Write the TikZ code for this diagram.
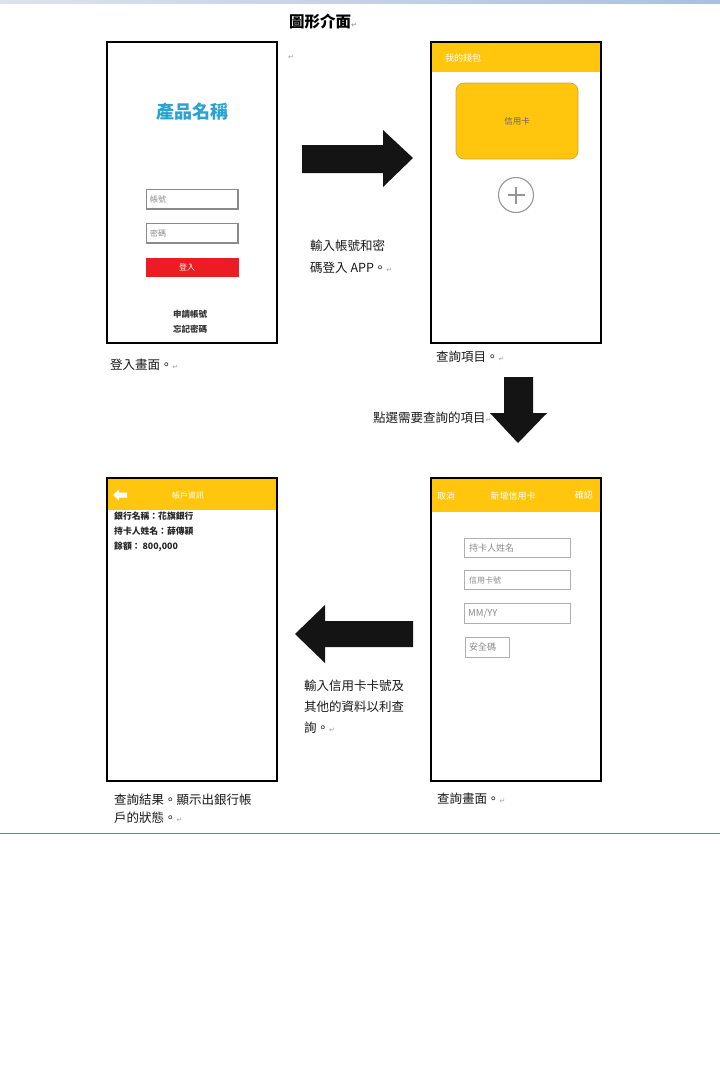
\documentclass[tikz,border=0pt]{standalone}
\usepackage{fontspec}
\setmainfont{Noto Sans CJK TC}
\newfontfamily\symfont{DejaVu Sans}
\usetikzlibrary{calc}
\definecolor{appyellow}{HTML}{FFC60D}
\definecolor{cardedge}{HTML}{C9A640}
\definecolor{titleblue}{HTML}{2AA3D3}
\definecolor{btnred}{HTML}{EC1C24}
\definecolor{fieldgray}{HTML}{8A8A8A}
\definecolor{lightfield}{HTML}{B0B0B0}
\definecolor{markgray}{HTML}{A0A0A0}
\definecolor{rulecol}{HTML}{6C7F8C}
\definecolor{bandleft}{HTML}{DCE3EC}
\definecolor{bandright}{HTML}{A9C0E0}
\tikzset{
  phone/.style={draw=black, line width=2.6pt, fill=white},
  bar/.style={fill=appyellow, draw=none},
  caption/.style={anchor=west, inner sep=0pt, font=\fontsize{12.5}{13}\selectfont, text=black!90},
  tiny/.style={inner sep=0pt, font=\fontsize{8}{9}\selectfont},
  small/.style={inner sep=0pt, font=\fontsize{9}{10}\selectfont},
  loginfield/.style={draw=fieldgray, line width=1.6pt, fill=white},
  formfield/.style={draw=lightfield, line width=0.8pt, fill=white},
  blockarrow/.style={fill=black!92, draw=none},
  pmark/.style={inner sep=0pt, font=\symfont\fontsize{7}{8}\selectfont, text=markgray},
}
\newcommand{\retmark}{{\symfont\fontsize{7}{8}\selectfont\color{markgray}↵}}
\begin{document}
\begin{tikzpicture}[x=1pt, y=-1pt]
\useasboundingbox (0,0) rectangle (720,1080);
\fill[white] (0,0) rectangle (720,1080);

% page header band and footer rule
\shade[left color=bandleft, right color=bandright] (0,0) rectangle (720,3.5);
\draw[rulecol, line width=0.8pt] (0,833) -- (720,833);

% heading
\node[anchor=west, inner sep=0pt, font=\bfseries\fontsize{15.5}{16}\selectfont] (title) at (289,22) {圖形介面\retmark};
\node[pmark] (mark0) at (291,57) {↵};

% ---------- login screen ----------
\draw[phone] (107,42) rectangle (277,343);
\node[inner sep=0pt, font=\bfseries\fontsize{18}{20}\selectfont, text=titleblue] (appname) at (192,112) {產品名稱};
\draw[loginfield] (146.5,189.5) rectangle (238,209);
\node[tiny, anchor=west, text=fieldgray] (user) at (150,199.5) {帳號};
\draw[loginfield] (146.5,223.5) rectangle (238,243);
\node[tiny, anchor=west, text=fieldgray] (pass) at (150,233.5) {密碼};
\fill[btnred] (146,258) rectangle (239,276.5);
\node[tiny, text=white] (login) at (187,267.5) {登入};
\node[small, font=\bfseries\fontsize{8.5}{9}\selectfont, text=black!80] (signup) at (190,314) {申請帳號};
\node[small, font=\bfseries\fontsize{8.5}{9}\selectfont, text=black!80] (forgot) at (190,329) {忘記密碼};
\node[caption] (cap1) at (110,365) {登入畫面。\retmark};

% ---------- wallet screen ----------
\draw[phone] (431,42) rectangle (601,343);
\fill[bar] (432.3,43.3) rectangle (599.7,72);
\node[small, anchor=west, text=white] (wallet) at (445,58) {我的錢包};
\draw[fill=appyellow, draw=cardedge, line width=0.7pt, rounded corners=8pt] (456,83) rectangle (578,159);
\node[small, font=\fontsize{8.5}{9}\selectfont, text=black!60] (card) at (517,121) {信用卡};
\draw[lightfield!85!black, line width=1.1pt] (516,195) circle (17.5);
\draw[lightfield!85!black, line width=1.1pt] (507.5,195) -- (524.5,195) (516,186.5) -- (516,203.5);
\node[caption] (cap2) at (436,357) {查詢項目。\retmark};

% ---------- add-card screen ----------
\draw[phone] (431,478) rectangle (601,781);
\fill[bar] (432.3,479.3) rectangle (599.7,512);
\node[small, anchor=west, text=white] (cancel) at (437,496) {取消};
\node[small, text=white] (newcard) at (513,496) {新增信用卡};
\node[small, anchor=east, text=white] (confirm) at (593,495) {確認};
\draw[formfield] (464,538) rectangle (570,557);
\node[small, anchor=west, text=fieldgray] (holder) at (469,548) {持卡人姓名};
\draw[formfield] (464,570) rectangle (570,589);
\node[tiny, anchor=west, text=fieldgray] (cardno) at (469,580) {信用卡號};
\draw[formfield] (464,603.5) rectangle (570,623);
\node[anchor=west, inner sep=0pt, font=\fontsize{9.5}{10}\selectfont, text=fieldgray] (expiry) at (468,613.5) {MM/YY};
\draw[formfield] (465,637.5) rectangle (509,657);
\node[small, anchor=west, text=fieldgray] (cvv) at (469,647.5) {安全碼};
\node[caption] (cap4) at (437,799) {查詢畫面。\retmark};

% ---------- account screen ----------
\draw[phone] (107,478) rectangle (277,781);
\fill[bar] (108.3,479.3) rectangle (275.7,510);
\fill[white] (113,495) -- (119,489.5) -- (119,492.5) -- (127,492.5) -- (127,497.5) -- (119,497.5) -- (119,500.5) -- cycle;
\node[tiny, text=white] (acct) at (188,495) {帳戶資訊};
\node[small, anchor=west, font=\bfseries\fontsize{8.8}{9}\selectfont, text=black!85] (bank) at (114,516) {銀行名稱：花旗銀行};
\node[small, anchor=west, font=\bfseries\fontsize{8.8}{9}\selectfont, text=black!85] (owner) at (114,531) {持卡人姓名：薛傳穎};
\node[small, anchor=west, font=\bfseries\fontsize{8.8}{9}\selectfont, text=black!85] (balance) at (114,547) {餘額：\ 800,000};
\node[caption] (cap3a) at (114,800) {查詢結果。顯示出銀行帳};
\node[caption] (cap3b) at (114,818) {戶的狀態。\retmark};

% ---------- flow arrows ----------
\fill[blockarrow] (302,145) -- (383,145) -- (383,130) -- (413,158) -- (383,187) -- (383,173) -- (302,173) -- cycle;
\node[caption] (step1a) at (310,246) {輸入帳號和密};
\node[caption] (step1b) at (310,268) {碼登入 APP。\retmark};

\fill[blockarrow] (504,377) -- (533,377) -- (533,413) -- (547,413) -- (518,443) -- (490,413) -- (504,413) -- cycle;
\node[caption] (step2) at (373,418) {點選需要查詢的項目\retmark};

\fill[blockarrow] (413,621) -- (325,621) -- (325,605) -- (295,634) -- (325,663) -- (325,647) -- (413,647) -- cycle;
\node[caption] (step3a) at (304,686) {輸入信用卡卡號及};
\node[caption] (step3b) at (304,707) {其他的資料以利查};
\node[caption] (step3c) at (304,728) {詢。\retmark};
\end{tikzpicture}
\end{document}
